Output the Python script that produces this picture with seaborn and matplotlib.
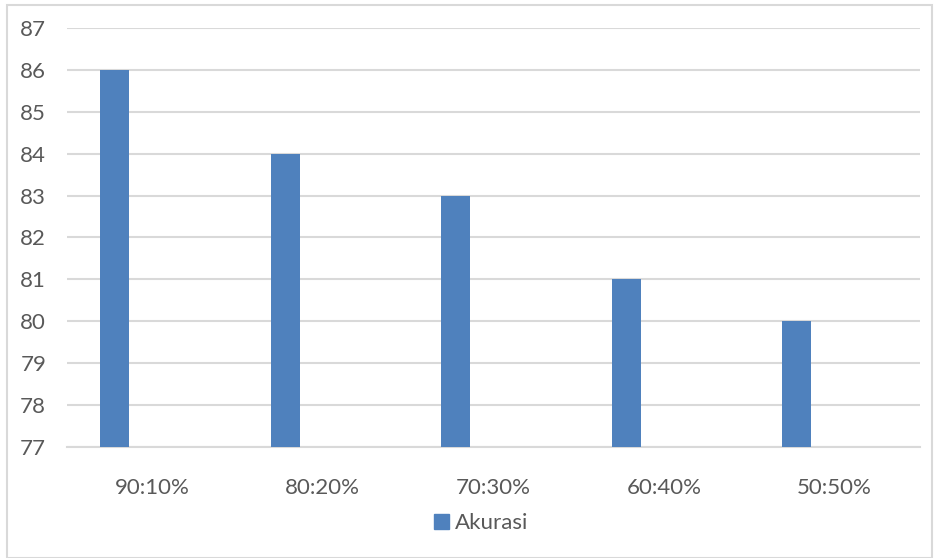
import matplotlib
matplotlib.use("Agg")
import matplotlib.pyplot as plt
import seaborn as sns
import pandas as pd
from matplotlib.patches import Rectangle

categories = ["90:10%", "80:20%", "70:30%", "60:40%", "50:50%"]
akurasi = [86, 84, 83, 81, 80]
series_name = "Akurasi"
yticks = list(range(77, 88))

sns.set_theme(style="white")
plt.rcParams['font.family'] = ['Lato', 'DejaVu Sans']

df = pd.DataFrame({"kategori": categories, "nilai": akurasi})

fig = plt.figure(figsize=(9.34, 5.58), dpi=100)
ax = fig.add_axes([0.0717, 0.199, 0.913, 0.751])

bar_color = "#4F81BD"
text_color = "#595959"
grid_color = "#D9D9D9"

sns.barplot(data=df, x="kategori", y="nilai", color=bar_color, width=0.17,
            saturation=1, ax=ax, zorder=3)
for p in ax.patches:
    p.set_x(p.get_x() - 0.22)
    p.set_linewidth(0)

ax.set_xlim(-0.5, len(categories) - 0.5)
ax.set_ylim(77, 87)
ax.set_yticks(yticks)
ax.yaxis.grid(True, color=grid_color, linewidth=1.5, zorder=0)
ax.set_axisbelow(True)
for s in ["top", "right", "left"]:
    ax.spines[s].set_visible(False)
ax.spines["bottom"].set_color(grid_color)
ax.spines["bottom"].set_linewidth(1.5)
ax.tick_params(axis="both", length=0, labelsize=16, colors=text_color)
ax.tick_params(axis="y", pad=15)
ax.tick_params(axis="x", pad=22)
ax.set_xlabel("")
ax.set_ylabel("")

handle = Rectangle((0, 0), 1, 1, color=bar_color)
leg = fig.legend([handle], [series_name], loc="center", bbox_to_anchor=(0.515, 0.062),
                 frameon=False, fontsize=16, handlelength=0.7, handleheight=0.7,
                 handletextpad=0.25)
for t in leg.get_texts():
    t.set_color(text_color)

border = Rectangle((0.0075, 0.0), 0.99, 0.991, transform=fig.transFigure, fill=False,
                   edgecolor=grid_color, linewidth=1.5)
fig.patches.append(border)

fig.savefig("out.png", dpi=100, facecolor="white")
